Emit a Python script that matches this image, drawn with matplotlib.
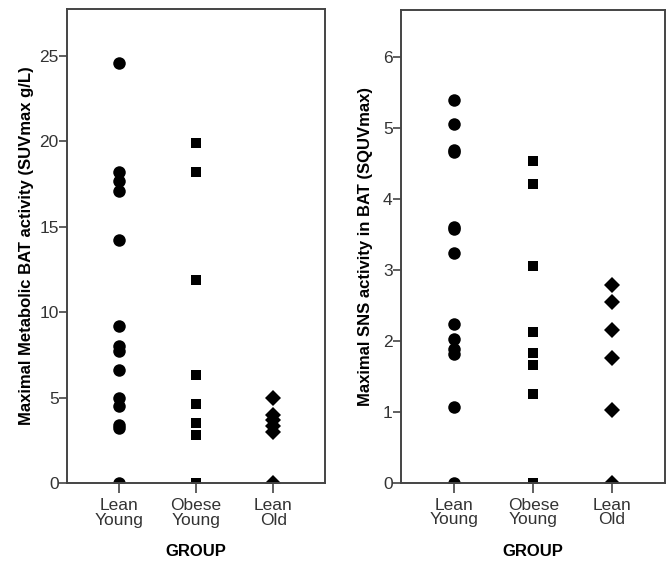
import numpy as np
import matplotlib.pyplot as plt

plt.rcParams['font.family'] = ['Liberation Sans', 'DejaVu Sans']

groups = ['Lean\nYoung', 'Obese\nYoung', 'Lean\nOld']

# Maximal metabolic BAT activity (SUVmax g/L)
bat_lean_young = [24.6, 18.2, 17.7, 17.1, 14.2, 9.2, 8.0, 7.7, 6.6, 5.0, 4.5, 3.4, 3.2, 0.0]
bat_obese_young = [19.9, 18.2, 11.9, 6.3, 4.6, 3.5, 2.8, 0.0]
bat_lean_old = [5.0, 4.0, 3.7, 3.35, 3.0, 0.0]

# Maximal SNS activity in BAT (SQUVmax)
sns_lean_young = [5.39, 5.06, 4.69, 4.66, 3.60, 3.57, 3.24, 2.23, 2.03, 1.89, 1.81, 1.07, 0.0]
sns_obese_young = [4.54, 4.21, 3.06, 2.12, 1.83, 1.66, 1.25, 0.0]
sns_lean_old = [2.78, 2.54, 2.15, 1.76, 1.03, 0.0]

markers = [('o', 9.0), ('s', 7.8), ('D', 8.4)]
tick_col = '#333333'
spine_col = '#444444'

fig = plt.figure(figsize=(6.68, 5.61), dpi=100)
ax1 = fig.add_axes([0.1003, 0.139, 0.3862, 0.845])
ax2 = fig.add_axes([0.6003, 0.1395, 0.3952, 0.8425])


def draw_panel(ax, series, ytop, yticks, ylabel, label_x):
    for i, vals in enumerate(series):
        m, ms = markers[i]
        ax.plot(np.full(len(vals), i), vals, linestyle='none', marker=m,
                markersize=ms, color='black', markeredgewidth=0)
    ax.set_xlim(-0.675, 2.67)
    ax.set_ylim(0, ytop)
    ax.set_xticks(range(len(groups)))
    ax.set_xticklabels(groups, fontsize=12.5, color=tick_col, linespacing=0.95)
    ax.set_yticks(yticks)
    ax.set_yticklabels([str(t) for t in yticks], fontsize=12.5, color=tick_col)
    ax.tick_params(axis='y', direction='out', length=6, width=1.2,
                   color=spine_col, pad=0)
    ax.tick_params(axis='x', direction='out', length=7, width=1.2,
                   color=spine_col, pad=4)
    for s in ax.spines.values():
        s.set_linewidth(1.4)
        s.set_color(spine_col)
    ax.set_xlabel('GROUP', fontsize=12, fontweight='bold', labelpad=12)
    ax.set_ylabel(ylabel, fontsize=12, fontweight='bold')
    ax.yaxis.set_label_coords(label_x, 0.5)
    ax.yaxis.label.set_va('center')


draw_panel(ax1, [bat_lean_young, bat_obese_young, bat_lean_old], 27.75,
           [0, 5, 10, 15, 20, 25],
           'Maximal Metabolic BAT activity (SUVmax g/L)', -0.158)
draw_panel(ax2, [sns_lean_young, sns_obese_young, sns_lean_old], 6.66,
           [0, 1, 2, 3, 4, 5, 6],
           'Maximal SNS activity in BAT (SQUVmax)', -0.136)

fig.savefig('out.png', dpi=100)
